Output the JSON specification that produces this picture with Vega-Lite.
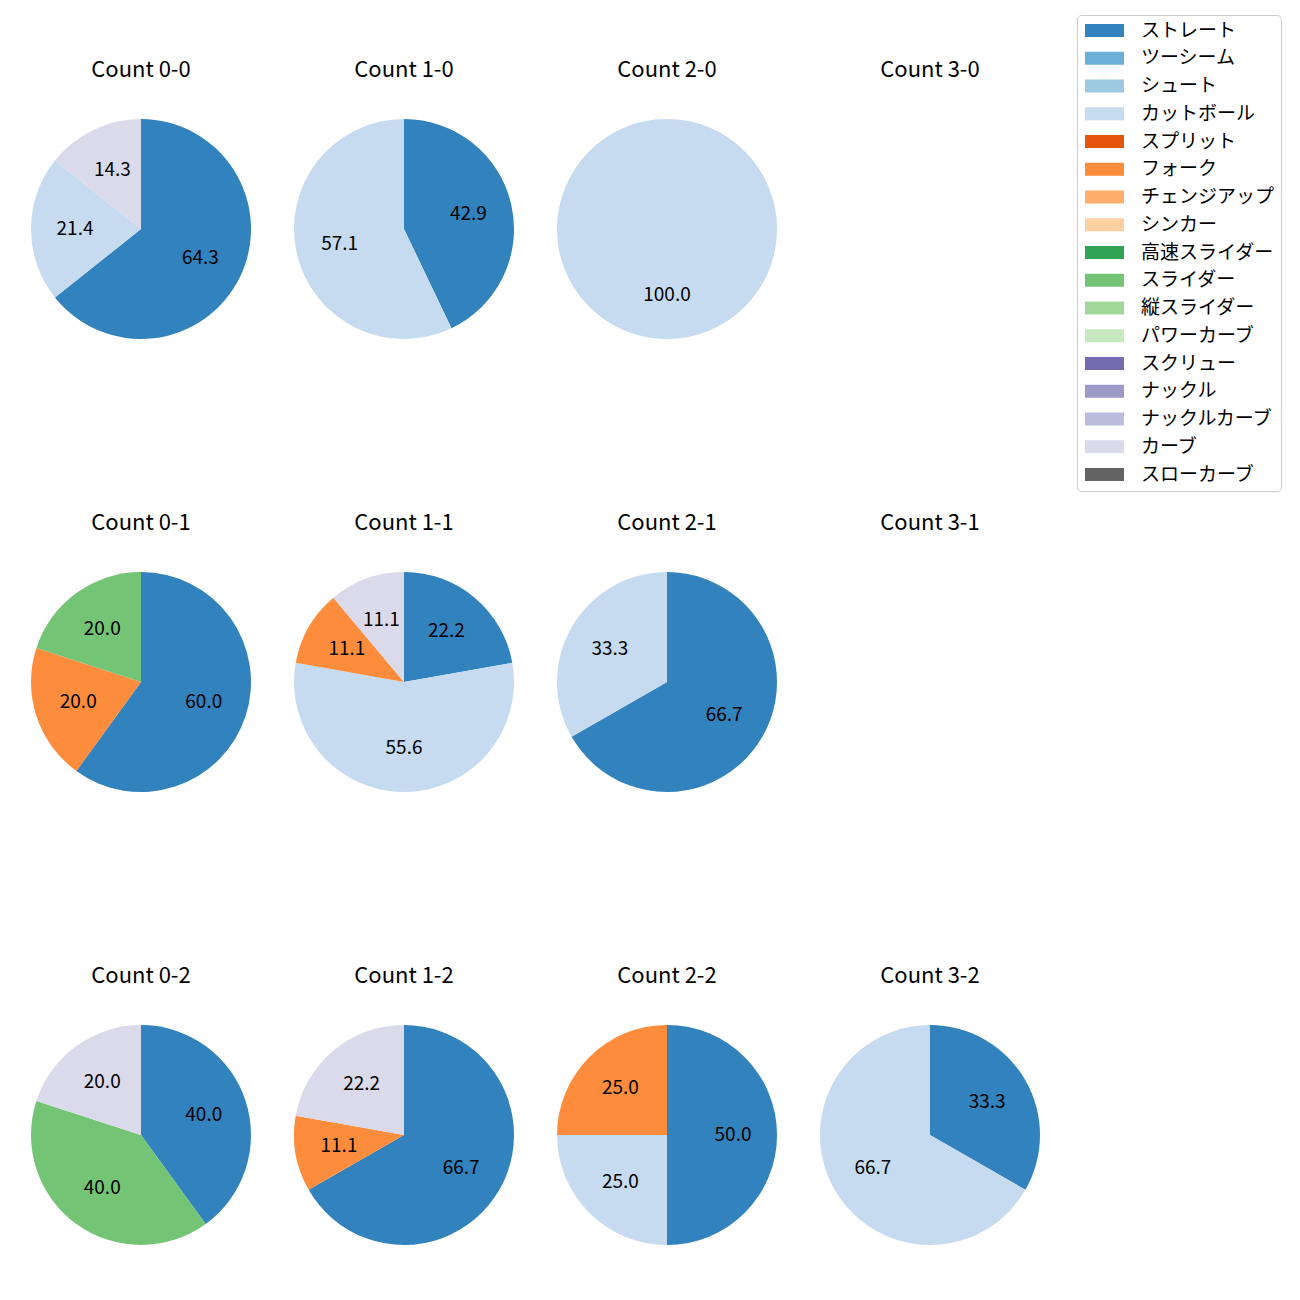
{
  "$schema": "https://vega.github.io/schema/vega-lite/v6.json",
  "padding": {"left": 31, "top": 14, "right": 0, "bottom": 0},
  "data": {"values": [
    {"count": "Count 0-0", "pitch": "ストレート", "pct": 64.3, "rank": 1},
    {"count": "Count 0-0", "pitch": "カットボール", "pct": 21.4, "rank": 4},
    {"count": "Count 0-0", "pitch": "カーブ", "pct": 14.3, "rank": 16},
    {"count": "Count 1-0", "pitch": "ストレート", "pct": 42.9, "rank": 1},
    {"count": "Count 1-0", "pitch": "カットボール", "pct": 57.1, "rank": 4},
    {"count": "Count 2-0", "pitch": "カットボール", "pct": 100.0, "rank": 4},
    {"count": "Count 3-0", "pitch": "ストレート", "pct": 0, "rank": 1},
    {"count": "Count 0-1", "pitch": "ストレート", "pct": 60.0, "rank": 1},
    {"count": "Count 0-1", "pitch": "フォーク", "pct": 20.0, "rank": 6},
    {"count": "Count 0-1", "pitch": "スライダー", "pct": 20.0, "rank": 10},
    {"count": "Count 1-1", "pitch": "ストレート", "pct": 22.2, "rank": 1},
    {"count": "Count 1-1", "pitch": "カットボール", "pct": 55.6, "rank": 4},
    {"count": "Count 1-1", "pitch": "フォーク", "pct": 11.1, "rank": 6},
    {"count": "Count 1-1", "pitch": "カーブ", "pct": 11.1, "rank": 16},
    {"count": "Count 2-1", "pitch": "ストレート", "pct": 66.7, "rank": 1},
    {"count": "Count 2-1", "pitch": "カットボール", "pct": 33.3, "rank": 4},
    {"count": "Count 3-1", "pitch": "ストレート", "pct": 0, "rank": 1},
    {"count": "Count 0-2", "pitch": "ストレート", "pct": 40.0, "rank": 1},
    {"count": "Count 0-2", "pitch": "スライダー", "pct": 40.0, "rank": 10},
    {"count": "Count 0-2", "pitch": "カーブ", "pct": 20.0, "rank": 16},
    {"count": "Count 1-2", "pitch": "ストレート", "pct": 66.7, "rank": 1},
    {"count": "Count 1-2", "pitch": "フォーク", "pct": 11.1, "rank": 6},
    {"count": "Count 1-2", "pitch": "カーブ", "pct": 22.2, "rank": 16},
    {"count": "Count 2-2", "pitch": "ストレート", "pct": 50.0, "rank": 1},
    {"count": "Count 2-2", "pitch": "カットボール", "pct": 25.0, "rank": 4},
    {"count": "Count 2-2", "pitch": "フォーク", "pct": 25.0, "rank": 6},
    {"count": "Count 3-2", "pitch": "ストレート", "pct": 33.3, "rank": 1},
    {"count": "Count 3-2", "pitch": "カットボール", "pct": 66.7, "rank": 4}
  ]},
  "facet": {
    "field": "count",
    "type": "nominal",
    "sort": ["Count 0-0", "Count 1-0", "Count 2-0", "Count 3-0", "Count 0-1", "Count 1-1", "Count 2-1", "Count 3-1", "Count 0-2", "Count 1-2", "Count 2-2", "Count 3-2"],
    "header": {"title": null, "labelFontSize": 22, "labelPadding": 37, "labelFont": "Noto Sans CJK JP", "labelColor": "#000000"}
  },
  "columns": 4,
  "spacing": {"column": 43, "row": 173},
  "spec": {
    "width": 220,
    "height": 220,
    "encoding": {
      "theta": {"field": "pct", "type": "quantitative", "stack": true},
      "order": {"field": "rank", "type": "quantitative", "sort": "ascending"}
    },
    "layer": [
      {
        "mark": {"type": "arc", "outerRadius": 110},
        "encoding": {
          "color": {
            "field": "pitch",
            "type": "nominal",
            "scale": {
              "domain": ["ストレート", "ツーシーム", "シュート", "カットボール", "スプリット", "フォーク", "チェンジアップ", "シンカー", "高速スライダー", "スライダー", "縦スライダー", "パワーカーブ", "スクリュー", "ナックル", "ナックルカーブ", "カーブ", "スローカーブ"],
              "range": ["#3182bd", "#6baed6", "#9ecae1", "#c6dbef", "#e6550d", "#fd8d3c", "#fdae6b", "#fdd0a2", "#31a354", "#74c476", "#a1d99b", "#c7e9c0", "#756bb1", "#9e9ac8", "#bcbddc", "#dadaeb", "#636363"]
            },
            "legend": {
              "title": null,
              "orient": "none",
              "legendX": 1046,
              "legendY": -104,
              "values": ["ストレート", "ツーシーム", "シュート", "カットボール", "スプリット", "フォーク", "チェンジアップ", "シンカー", "高速スライダー", "スライダー", "縦スライダー", "パワーカーブ", "スクリュー", "ナックル", "ナックルカーブ", "カーブ", "スローカーブ"],
              "symbolType": "M-3,-1H3V1H-3Z",
              "symbolSize": 169,
              "symbolOffset": 12,
              "symbolStrokeWidth": 0,
              "labelOffset": 27,
              "labelFontSize": 19,
              "labelFont": "Noto Sans CJK JP",
              "labelColor": "#000000",
              "labelLimit": 300,
              "rowPadding": 7.75,
              "padding": 6,
              "strokeColor": "#cccccc",
              "fillColor": "#ffffff",
              "cornerRadius": 4
            }
          }
        }
      },
      {
        "transform": [{"filter": "datum.pct > 0"}],
        "mark": {"type": "text", "radius": 66, "fontSize": 19, "font": "Noto Sans CJK JP", "color": "#000000"},
        "encoding": {
          "text": {"field": "pct", "type": "quantitative", "format": ".1f"}
        }
      }
    ]
  },
  "config": {
    "view": {"stroke": null},
    "font": "Noto Sans CJK JP"
  }
}
